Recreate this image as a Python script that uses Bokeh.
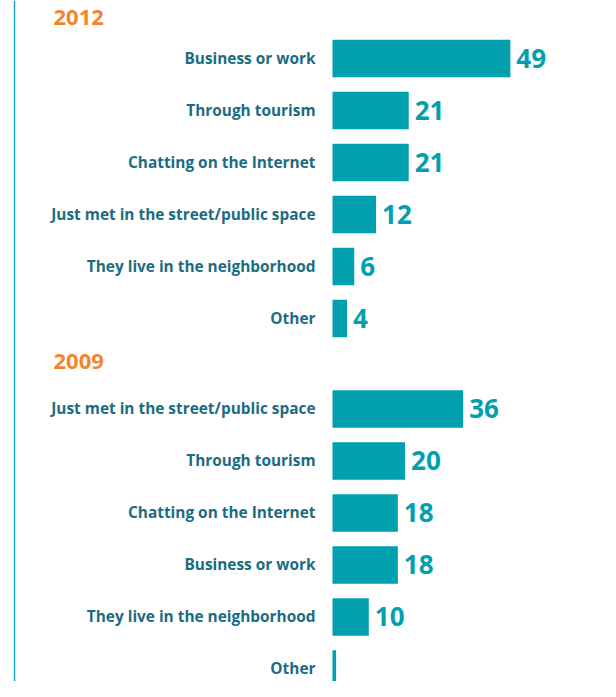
from bokeh.plotting import figure
from bokeh.models import ColumnDataSource, Range1d, Span
from bokeh.core.properties import value
from bokeh.embed import file_html
from bokeh.resources import INLINE

# ---- data ----
years = ["2012", "2009"]
categories_2012 = ["Business or work", "Through tourism", "Chatting on the Internet",
                   "Just met in the street/public space", "They live in the neighborhood", "Other"]
values_2012 = [49, 21, 21, 12, 6, 4]
categories_2009 = ["Just met in the street/public space", "Through tourism", "Chatting on the Internet",
                   "Business or work", "They live in the neighborhood", "Other"]
values_2009 = [36, 20, 18, 18, 10, 1]
value_labels_2009 = ["36", "20", "18", "18", "10", ""]

# ---- layout constants ----
W, H = 600, 681
PX_PER_UNIT = 3.63      # horizontal pixels per value unit
BAR_X0_PX = 332         # pixel where bars start
ROW_PX = 52             # pixel spacing of rows
FIRST_ROW_PX = 58
group_start = [0.0, 6.74]
title_offset = [-0.79, -0.91]

x0 = -BAR_X0_PX / PX_PER_UNIT
x1 = (W - BAR_X0_PX) / PX_PER_UNIT
ytop = -FIRST_ROW_PX / ROW_PX
ybot = ytop + H / ROW_PX

BAR = "#00A0AE"
LABEL = "#1B6C80"
ORANGE = "#F5852C"
FONT = "Open Sans"

p = figure(width=W, height=H, output_backend="svg", toolbar_location=None,
           x_range=Range1d(x0, x1), y_range=Range1d(ybot, ytop),
           min_border=0, outline_line_color=None)
p.axis.visible = False
p.grid.visible = False
p.background_fill_color = "white"
p.border_fill_color = "white"

cats_all, vals_all, ys, vlabels = [], [], [], []
for g, (cats, vals, labs) in enumerate([(categories_2012, values_2012, [str(v) for v in values_2012]),
                                        (categories_2009, values_2009, value_labels_2009)]):
    for i, (c, v, l) in enumerate(zip(cats, vals, labs)):
        cats_all.append(c)
        vals_all.append(v)
        ys.append(group_start[g] + i)
        vlabels.append(l)

src = ColumnDataSource(dict(cat=cats_all, val=vals_all, y=ys, vlab=vlabels,
                            lab_x=[-17 / PX_PER_UNIT] * len(ys),
                            vx=[v + 6 / PX_PER_UNIT for v in vals_all]))

p.hbar(y="y", left=0, right="val", height=37.5 / ROW_PX, source=src,
       fill_color=BAR, line_color=None)

p.text(x="lab_x", y="y", text="cat", source=src, text_align="right", text_baseline="middle",
       text_font=value(FONT), text_font_style="bold", text_font_size="15.4px", text_color=LABEL)

p.text(x="vx", y="y", text="vlab", source=src, text_align="left", text_baseline="middle",
       text_font=value(FONT), text_font_style="bold", text_font_size="26px", text_color=BAR)

tsrc = ColumnDataSource(dict(t=years, x=[(53 - BAR_X0_PX) / PX_PER_UNIT] * 2,
                             y=[group_start[g] + title_offset[g] for g in range(2)]))
p.text(x="x", y="y", text="t", source=tsrc, text_align="left", text_baseline="middle",
       text_font=value(FONT), text_font_style="bold", text_font_size="22px", text_color=ORANGE)

p.add_layout(Span(location=(14 - BAR_X0_PX) / PX_PER_UNIT, dimension="height",
                  line_color="#19A9C4", line_width=1.5))

open("out.html", "w").write(file_html(p, INLINE))
